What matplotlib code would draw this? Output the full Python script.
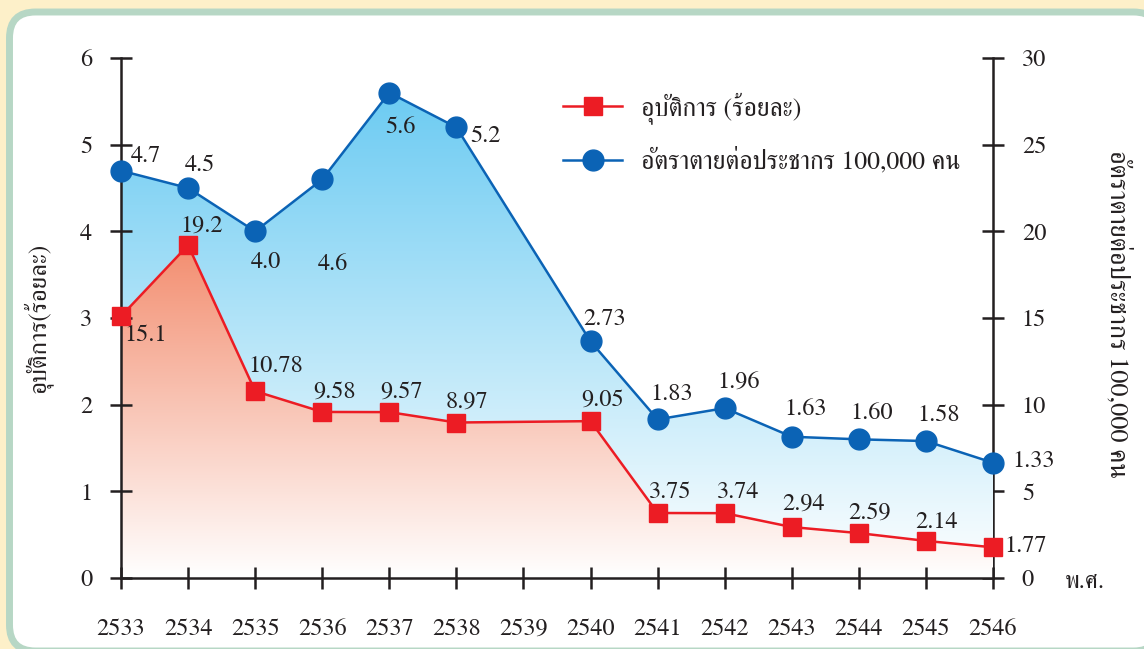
import numpy as np
import matplotlib
matplotlib.use("Agg")
import matplotlib.pyplot as plt
from matplotlib.colors import LinearSegmentedColormap
from matplotlib.patches import FancyBboxPatch, Polygon
from matplotlib.lines import Line2D

plt.rcParams['font.family'] = ['FreeSerif', 'DejaVu Serif']

# ข้อมูล
years = list(range(2533, 2547))
x_data = [2533, 2534, 2535, 2536, 2537, 2538, 2540, 2541, 2542, 2543, 2544, 2545, 2546]
blue_vals = [4.7, 4.5, 4.0, 4.6, 5.6, 5.2, 2.73, 1.83, 1.96, 1.63, 1.60, 1.58, 1.33]
blue_text = ['4.7', '4.5', '4.0', '4.6', '5.6', '5.2', '2.73', '1.83', '1.96', '1.63', '1.60', '1.58', '1.33']
red_vals = [15.1, 19.2, 10.78, 9.58, 9.57, 8.97, 9.05, 3.75, 3.74, 2.94, 2.59, 2.14, 1.77]
red_text = ['15.1', '19.2', '10.78', '9.58', '9.57', '8.97', '9.05', '3.75', '3.74', '2.94', '2.59', '2.14', '1.77']
left_ticks = [0, 1, 2, 3, 4, 5, 6]
right_ticks = [0, 5, 10, 15, 20, 25, 30]

red_name = 'อุบัติการ (ร้อยละ)'
blue_name = 'อัตราตายต่อประชากร 100,000 คน'
left_title = 'อุบัติการ(ร้อยละ)'
right_title = 'อัตราตายต่อประชากร 100,000 คน'
x_unit = 'พ.ศ.'

# ตำแหน่งป้ายตัวเลข (px จากจุด)
blue_off = [(25, 14), (12, 23), (11, -31), (11, -85), (11, -35), (29, -9), (14, 22),
            (14, 25), (14, 25), (14, 27), (13, 26), (13, 26), (41, 1)]
red_off = [(25, -19), (14, 19), (21, 25), (12, 20), (12, 20), (11, 21), (12, 21),
           (13, 21), (13, 21), (12, 23), (11, 20), (11, 19), (33, 1)]

BLUE = '#0b63b5'
RED = '#ec1c24'
INK = '#231f20'
FS = 17.5

fig = plt.figure(figsize=(11.44, 6.49), dpi=100)
fig.patch.set_facecolor('#fdf0c9')
box = FancyBboxPatch((9.5, -2), 1150, 639, boxstyle='round,pad=0,rounding_size=26',
                     fc='white', ec='#b7d7c5', lw=5, transform=None, zorder=-5)
fig.add_artist(box)

ax = fig.add_axes([121 / 1144, 71 / 649, 872 / 1144, 520 / 649])
ax.set_facecolor('none')
ax2 = ax.twinx()
ax.set_zorder(ax2.get_zorder() + 1)

ax.set_xlim(2533, 2546)
ax.set_ylim(0, 6)
ax2.set_ylim(0, 30)
rtrans = ax2.transData  # สเกลแกนขวา แต่วาดใน ax


def grad_fill(trans, xs, ys, color):
    verts = [(xs[0], 0)] + list(zip(xs, ys)) + [(xs[-1], 0)]
    poly = Polygon(verts, closed=True, fc='none', ec='none', transform=trans)
    ax.add_patch(poly)
    cmap = LinearSegmentedColormap.from_list('g', ['#ffffff', color])
    grad = np.linspace(0, 1, 256).reshape(-1, 1)
    im = ax.imshow(grad, cmap=cmap, extent=(xs[0], xs[-1], 0, max(ys)),
                   origin='lower', aspect='auto', zorder=1, interpolation='bilinear',
                   transform=trans)
    im.set_clip_path(poly)


grad_fill(ax.transData, x_data, blue_vals, '#6ccbf2')
grad_fill(rtrans, x_data, red_vals, '#f38e70')

ax.plot(x_data, blue_vals, color=BLUE, lw=1.8, marker='o', ms=15, mfc=BLUE, mec=BLUE,
        clip_on=False, zorder=3)
ax.plot(x_data, red_vals, color=RED, lw=1.8, marker='s', ms=12.5, mfc=RED, mec=RED,
        clip_on=False, zorder=3, transform=rtrans)

for x, v, t, (dx, dy) in zip(x_data, blue_vals, blue_text, blue_off):
    ax.annotate(t, (x, v), xytext=(dx * 0.72, dy * 0.72), textcoords='offset points',
                ha='center', va='center', fontsize=FS, color=INK, zorder=4)
for x, v, t, (dx, dy) in zip(x_data, red_vals, red_text, red_off):
    ax.annotate(t, (x, v), xycoords=rtrans, xytext=(dx * 0.72, dy * 0.72),
                textcoords='offset points', ha='center', va='center', fontsize=FS,
                color=INK, zorder=4)

ax.set_xlim(2533, 2546)
ax.set_ylim(0, 6)
ax2.set_ylim(0, 30)

ax.set_xticks(years)
ax.set_xticklabels([str(y) for y in years])
ax.set_yticks(left_ticks)
ax2.set_yticks(right_ticks)

for s in ['top', 'right']:
    ax.spines[s].set_visible(False)
for s in ['top', 'left', 'bottom']:
    ax2.spines[s].set_visible(False)
for s in ['left', 'bottom']:
    ax.spines[s].set_linewidth(1.8)
    ax.spines[s].set_color(INK)
ax2.spines['right'].set_linewidth(1.8)
ax2.spines['right'].set_color(INK)

ax.tick_params(axis='y', direction='inout', length=16.5, width=1.8, color=INK,
               labelsize=FS, labelcolor=INK, pad=12.5)
ax.tick_params(axis='x', direction='inout', length=16.5, width=1.8, color=INK,
               labelsize=FS, labelcolor=INK, pad=21)
ax2.tick_params(axis='y', direction='inout', length=16.5, width=1.8, color=INK,
                labelsize=FS, labelcolor=INK, pad=12.5)

handles = [Line2D([], [], color=RED, lw=1.8, marker='s', ms=12.5, mfc=RED, mec=RED),
           Line2D([], [], color=BLUE, lw=1.8, marker='o', ms=15, mfc=BLUE, mec=BLUE)]
ax.legend(handles, [red_name, blue_name], loc='upper left',
          bbox_to_anchor=(563 / 1144, 1 - 92 / 649), bbox_transform=fig.transFigure,
          frameon=False, fontsize=18.5, handlelength=2.3, handletextpad=0.75,
          labelspacing=0.95, borderpad=0, borderaxespad=0, labelcolor=INK)

fig.text(38 / 1144, 1 - 318 / 649, left_title, rotation=90, ha='center', va='center',
         fontsize=18, color=INK)
fig.text(1118 / 1144, 1 - 314 / 649, right_title, rotation=270, ha='center', va='center',
         fontsize=19, color=INK)
fig.text(1085 / 1144, 1 - 582 / 649, x_unit, ha='center', va='center', fontsize=FS, color=INK)

fig.savefig('out.png', dpi=100, facecolor=fig.get_facecolor())
